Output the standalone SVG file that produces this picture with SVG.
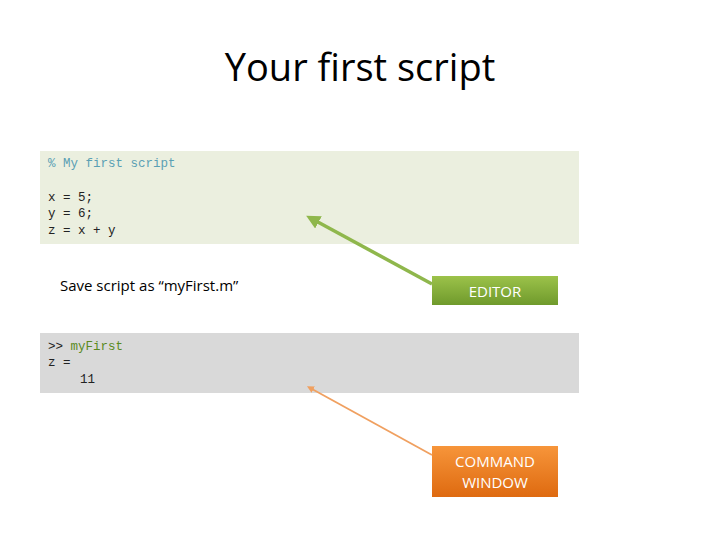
<svg xmlns="http://www.w3.org/2000/svg" width="720" height="540" viewBox="0 0 720 540">
<style>
.code{font-family:"Liberation Mono",monospace;font-size:12.5px;fill:#222}
.lbl{font-family:"Open Sans","Liberation Sans",sans-serif;font-size:15px;fill:#fff;text-anchor:middle}
</style>
<defs>
<linearGradient id="gg" x1="0" y1="0" x2="0" y2="1"><stop offset="0" stop-color="#9cc24a"/><stop offset="1" stop-color="#6f9a2c"/></linearGradient>
<linearGradient id="og" x1="0" y1="0" x2="0" y2="1"><stop offset="0" stop-color="#f7953a"/><stop offset="1" stop-color="#de6a10"/></linearGradient>
<marker id="ag" viewBox="0 0 10 10" refX="2" refY="5" markerWidth="4" markerHeight="4" orient="auto-start-reverse"><path d="M0,0L10,5L0,10z" fill="#8fb74c"/></marker>
<marker id="ao" viewBox="0 0 10 10" refX="2" refY="5" markerWidth="4" markerHeight="4" orient="auto-start-reverse"><path d="M0,0L10,5L0,10z" fill="#f0a060"/></marker>
</defs>
<rect width="720" height="540" fill="#fff"/>
<text x="360" y="81" text-anchor="middle" font-family="Open Sans, Liberation Sans, sans-serif" font-size="38" fill="#000">Your first script</text>
<g id="editorPane">
<rect x="40" y="151" width="539" height="93" fill="#ebefdf"/>
<text class="code" x="48" y="167" fill="#5aa0b4" style="fill:#5aa0b4">% My first script</text>
<text class="code" x="48" y="201">x = 5;</text>
<text class="code" x="48" y="217">y = 6;</text>
<text class="code" x="48" y="234">z = x + y</text>
</g>
<g id="saveNote"><text x="60" y="291" font-family="Open Sans, Liberation Sans, sans-serif" font-size="15" fill="#000">Save script as “myFirst.m”</text></g>
<g id="commandPane">
<rect x="40" y="333" width="539" height="60" fill="#d9d9d9"/>
<text class="code" x="48" y="350">&gt;&gt; <tspan style="fill:#5a8a1e">myFirst</tspan></text>
<text class="code" x="48" y="366">z =</text>
<text class="code" x="80" y="383">11</text>
</g>
<g id="editor"><rect x="432" y="276" width="126" height="29" fill="url(#gg)"/><text class="lbl" x="495" y="297">EDITOR</text></g>
<g id="cmdwin"><rect x="432" y="446" width="126" height="51" fill="url(#og)"/><text class="lbl" x="495" y="467">COMMAND</text><text class="lbl" x="495" y="488">WINDOW</text></g>
<g id="connectors">
<line x1="432" y1="284" x2="316" y2="221" stroke="#8fb74c" stroke-width="3.5" marker-end="url(#ag)"/>
<line x1="432" y1="455" x2="312" y2="389" stroke="#f0a060" stroke-width="1.8" marker-end="url(#ao)"/>
</g>
</svg>
